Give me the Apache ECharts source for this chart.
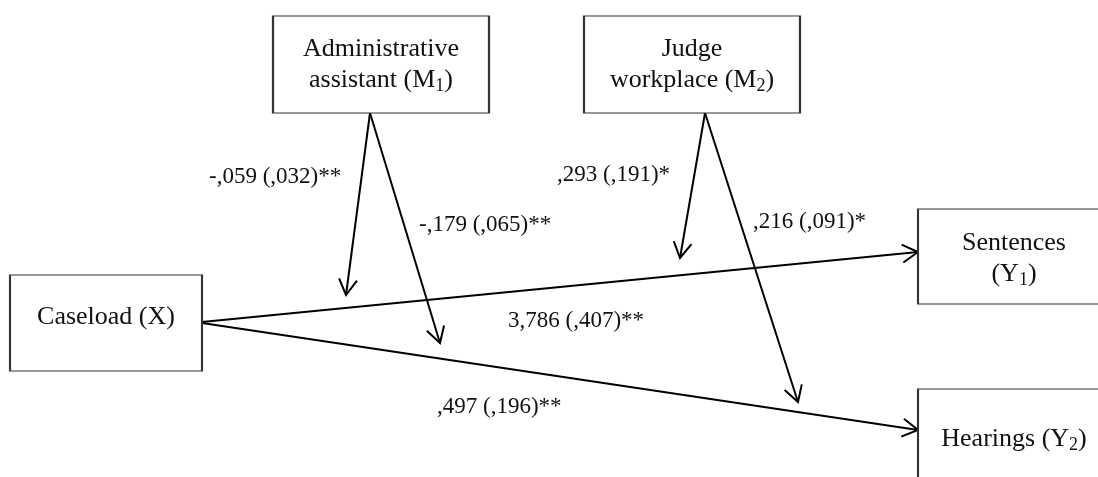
<!DOCTYPE html>
<html>
<head>
<meta charset="utf-8">
<script src="https://cdn.jsdelivr.net/npm/echarts@6/dist/echarts.min.js"></script>
<style>
html,body{margin:0;padding:0;background:#fff;}
#chart{width:1098px;height:477px;}
</style>
</head>
<body>
<div id="chart"></div>
<script>
// ---- Nodes (variables of the moderated path model) ----
const nodeLabels = [
  '{t|Administrative}\n{t|assistant (M}{s|1}{t|)}',
  '{t|Judge}\n{t|workplace (M}{s|2}{t|)}',
  '{t|Caseload (X)}',
  '{t|Sentences}\n{t|(Y}{s|1}{t|)}',
  '{t|Hearings (Y}{s|2}{t|)}'
];
// layout: box centres and sizes in diagram units
const nodeX = [381, 692, 106, 1014, 1014];
const nodeY = [64.5, 64.5, 323, 256.5, 437];
const nodeW = [216, 216, 192, 192, 192];
const nodeH = [97, 97, 96, 95, 96];
const nodeTextShift = [0, 0, -6, 2, 2];

// ---- Paths (start -> arrow tip) ----
const pathFromX = [202, 202, 370, 370, 705, 705];
const pathFromY = [322, 323, 113, 113, 113, 113];
const pathToX   = [918, 918, 346, 440, 680, 798];
const pathToY   = [252, 430, 295, 343, 258, 402];

// ---- Coefficients (SE) with significance ----
const coefLabels = [
  '-,059 (,032)**',
  '-,179 (,065)**',
  ',293 (,191)*',
  ',216 (,091)*',
  '3,786 (,407)**',
  ',497 (,196)**'
];
const coefX = [209, 419, 557, 753, 508, 437];
const coefY = [177, 225, 175, 222, 321, 407];

const serif = '"Liberation Serif", "Times New Roman", "DejaVu Serif", serif';

const boxData = nodeLabels.map((lab, i) => ({
  value: [nodeX[i], nodeY[i]],
  symbolSize: [nodeW[i], nodeH[i]],
  label: { formatter: lab, offset: [0, nodeTextShift[i]] }
}));
const pathData = pathFromX.map((x, i) => [x, pathFromY[i], pathToX[i], pathToY[i]]);
const coefData = coefLabels.map((t, i) => [coefX[i], coefY[i], t]);

const chart = echarts.init(document.getElementById('chart'), null, { renderer: 'canvas' });
chart.setOption({
  animation: false,
  backgroundColor: '#ffffff',
  grid: { left: 0, right: 0, top: 0, bottom: 0 },
  xAxis: { type: 'value', min: 0, max: 1098, show: false },
  yAxis: { type: 'value', min: 0, max: 477, inverse: true, show: false },
  series: [
    {
      type: 'custom',
      silent: true,
      z: 2,
      data: pathData,
      renderItem: function (params, api) {
        const p0 = api.coord([api.value(0), api.value(1)]);
        const p1 = api.coord([api.value(2), api.value(3)]);
        const dx = p1[0] - p0[0], dy = p1[1] - p0[1];
        const len = Math.sqrt(dx * dx + dy * dy);
        const rx = -dx / len, ry = -dy / len;
        const L = 18, a = 30 * Math.PI / 180;
        const c = Math.cos(a), s = Math.sin(a);
        const b1 = [p1[0] + L * (rx * c - ry * s), p1[1] + L * (rx * s + ry * c)];
        const b2 = [p1[0] + L * (rx * c + ry * s), p1[1] + L * (-rx * s + ry * c)];
        return {
          type: 'group',
          children: [
            { type: 'line', shape: { x1: p0[0], y1: p0[1], x2: p1[0], y2: p1[1] },
              style: { stroke: '#000', lineWidth: 2 } },
            { type: 'polyline', shape: { points: [b1, p1, b2] },
              style: { stroke: '#000', lineWidth: 2, fill: null, lineJoin: 'miter' } }
          ]
        };
      }
    },
    {
      type: 'scatter',
      silent: true,
      z: 3,
      symbol: 'rect',
      data: boxData,
      itemStyle: { color: '#ffffff', borderColor: '#333', borderWidth: 1.5, opacity: 1 },
      label: {
        show: true,
        position: 'inside',
        color: '#111',
        rich: {
          t: { fontFamily: serif, fontSize: 26, lineHeight: 31, color: '#111' },
          s: { fontFamily: serif, fontSize: 18, lineHeight: 24, verticalAlign: 'bottom', color: '#111' }
        }
      },
      emphasis: { disabled: true }
    },
    {
      type: 'custom',
      silent: true,
      z: 4,
      data: coefData,
      renderItem: function (params, api) {
        const p = api.coord([api.value(0), api.value(1)]);
        return {
          type: 'text',
          x: p[0],
          y: p[1],
          style: {
            text: coefLabels[params.dataIndex],
            fontFamily: serif,
            fontSize: 23,
            fill: '#111',
            align: 'left',
            verticalAlign: 'middle'
          }
        };
      }
    }
  ]
});
</script>
</body>
</html>
